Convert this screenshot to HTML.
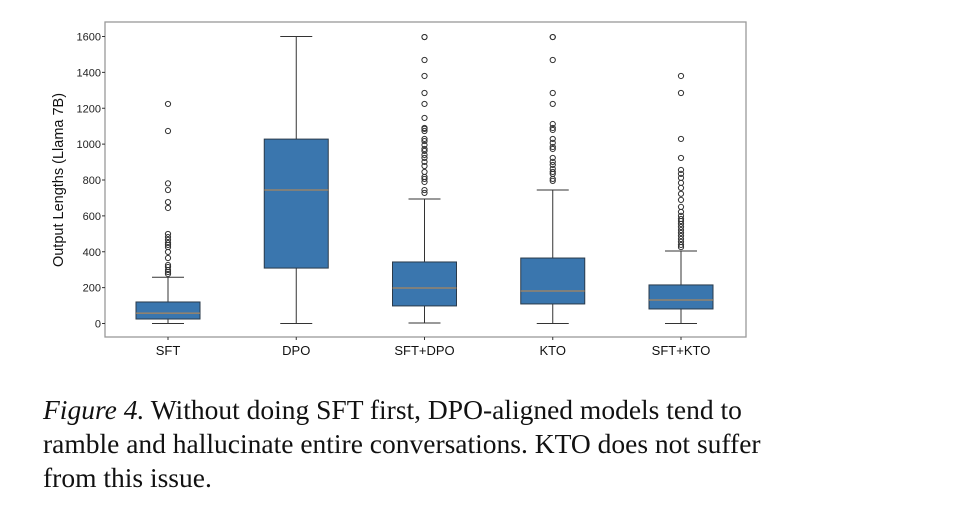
<!DOCTYPE html>
<html><head><meta charset="utf-8"><style>
body{margin:0;background:#fff;width:959px;height:521px;overflow:hidden;position:relative}
svg{position:absolute;left:0;top:0}
.cap{position:absolute;left:43px;top:393px;font-family:"Liberation Serif",serif;font-size:27.5px;line-height:34px;color:#111;width:910px;white-space:nowrap}
</style></head><body>
<svg width="959" height="521" id="chart"></svg>
<div class="cap"><i>Figure 4.</i> Without doing SFT first, DPO-aligned models tend to<br>ramble and hallucinate entire conversations. KTO does not suffer<br>from this issue.</div>
<script>
const categories=["SFT","DPO","SFT+DPO","KTO","SFT+KTO"];
const whiskerLow=[0,0,3,0,0];
const q1=[25,309,98,109,81];
const medians=[58,744,198,181,131];
const q3=[120,1028,343,365,215];
const whiskerHigh=[258,1600,694,744,404];
const outliersSFT=[1224,1073,781,744,677,644,499,482,466,449,438,426,399,365,326,315,298,287,276];
const outliersDPO=[];
const outliersSFTDPO=[1597,1597,1469,1380,1285,1224,1146,1090,1085,1073,1029,1017,995,973,962,940,923,901,878,845,817,806,789,744,728];
const outliersKTO=[1597,1597,1469,1285,1224,1112,1090,1079,1029,1007,984,973,923,901,884,862,845,834,806,795];
const outliersSFTKTO=[1380,1285,1029,923,856,834,812,784,756,723,689,650,622,600,583,571,555,538,521,505,488,471,455,438,426];
const yTicks=[0,200,400,600,800,1000,1200,1400,1600];
const outliers=[outliersSFT,outliersDPO,outliersSFTDPO,outliersKTO,outliersSFTKTO];

const NS="http://www.w3.org/2000/svg";
const svg=document.getElementById('chart');
const L=105,R=746,T=22,B=337;
function y(v){return 323.5-v*(287/1600);}
function x(i){return 168+i*128.25;}
function mk(tag,attrs,parent){const e=document.createElementNS(NS,tag);for(const k in attrs)e.setAttribute(k,attrs[k]);(parent||svg).appendChild(e);return e;}
const frame=mk('rect',{x:L,y:T,width:R-L,height:B-T,fill:'none',stroke:'#999','stroke-width':1.3});


yTicks.forEach(t=>{
  const tk=mk('line',{x1:L-3,x2:L,y1:y(t),y2:y(t),stroke:'#333','stroke-width':1});
  
  
  const tx=mk('text',{x:L-4,y:y(t)+4,'text-anchor':'end','font-family':'Liberation Sans, sans-serif','font-size':11,fill:'#222'});
  tx.textContent=t+"";
  
  
});
const yl=mk('text',{x:0,y:0,transform:'translate(63,180) rotate(-90)','text-anchor':'middle','font-family':'Liberation Sans, sans-serif','font-size':14.5,fill:'#111'});
yl.textContent="Output Lengths (Llama 7B)";


categories.forEach((c,i)=>{
  const cx=x(i),w=32;
  const g=mk('g',{});
  
  
  mk('line',{x1:cx,x2:cx,y1:y(whiskerLow[i]),y2:y(q1[i]),stroke:'#333','stroke-width':1},g);
  mk('line',{x1:cx,x2:cx,y1:y(q3[i]),y2:y(whiskerHigh[i]),stroke:'#333','stroke-width':1},g);
  mk('line',{x1:cx-16,x2:cx+16,y1:y(whiskerLow[i]),y2:y(whiskerLow[i]),stroke:'#333','stroke-width':1},g);
  mk('line',{x1:cx-16,x2:cx+16,y1:y(whiskerHigh[i]),y2:y(whiskerHigh[i]),stroke:'#333','stroke-width':1},g);
  mk('rect',{x:cx-w,y:y(q3[i]),width:2*w,height:y(q1[i])-y(q3[i]),fill:'#3a76ae',stroke:'#2a3a4a','stroke-width':1},g);
  mk('line',{x1:cx-w,x2:cx+w,y1:y(medians[i]),y2:y(medians[i]),stroke:'#c48a4a','stroke-width':1},g);
  outliers[i].forEach(v=>{
    const o=mk('circle',{cx:cx,cy:y(v),r:2.6,fill:'none',stroke:'#333','stroke-width':1},g);
    
    
  });
  const tk=mk('line',{x1:cx,x2:cx,y1:B,y2:B+3,stroke:'#333'});
  
  
  const t=mk('text',{x:cx,y:355,'text-anchor':'middle','font-family':'Liberation Sans, sans-serif','font-size':13,fill:'#111'});
  t.textContent=c;
  
  
});
</script>
</body></html>
